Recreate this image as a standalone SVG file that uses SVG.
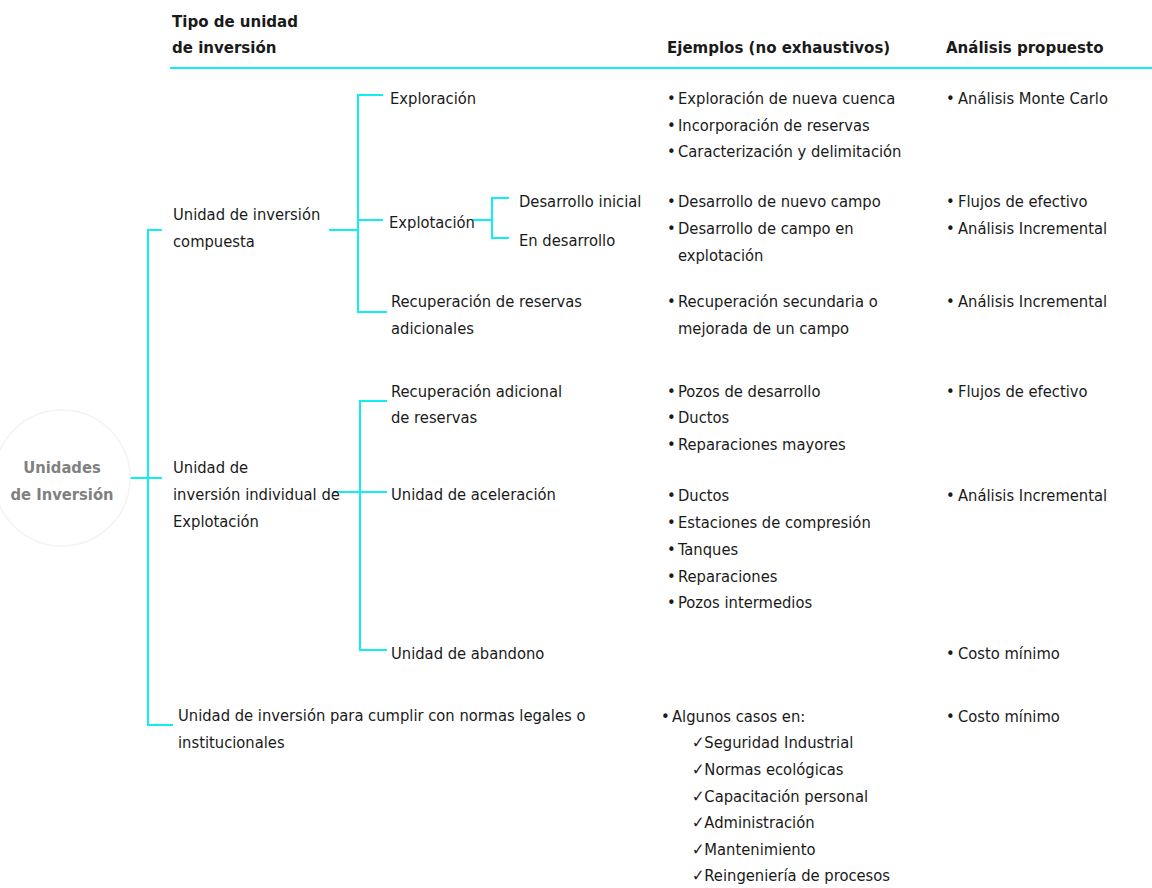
<svg xmlns="http://www.w3.org/2000/svg" width="1152" height="888" viewBox="0 0 1152 888">
<style>
text{font-family:"DejaVu Sans Condensed","DejaVu Sans",sans-serif;font-size:16.4px;fill:#1a1a1a}
.h{font-weight:bold;font-size:16.7px}
.root{font-weight:bold;fill:#808080;font-size:16.4px}
.c{stroke:#10EEF4;stroke-width:2;fill:none}
</style>
<rect width="1152" height="888" fill="#ffffff"/>
<g id="header">
<text class="h" x="172" y="27">Tipo de unidad</text>
<text class="h" x="172" y="53">de inversión</text>
<text class="h" x="667" y="53">Ejemplos (no exhaustivos)</text>
<text class="h" x="946" y="53">Análisis propuesto</text>
<line class="c" x1="170" y1="68" x2="1152" y2="68"/>
</g>
<g id="connectors">
<line class="c" x1="127" y1="478" x2="162" y2="478"/>
<polyline class="c" points="162,230 148,230 148,725 173,725"/>
<line class="c" x1="329" y1="230" x2="358" y2="230"/>
<polyline class="c" points="383,95 358,95 358,312 387,312"/>
<line class="c" x1="358" y1="220" x2="383" y2="220"/>
<line class="c" x1="472" y1="220" x2="492" y2="220"/>
<polyline class="c" points="509,198 492,198 492,238 509,238"/>
<polyline class="c" points="387,401 360,401 360,650 387,650"/>
<line class="c" x1="333" y1="492" x2="387" y2="492"/>
</g>
<g id="root">
<circle cx="62" cy="478" r="68" fill="#ffffff" stroke="#f3f3f3" stroke-width="1.5"/>
<text class="root" x="62" y="473" text-anchor="middle">Unidades</text>
<text class="root" x="62" y="500" text-anchor="middle">de Inversión</text>
</g>
<g id="n-compuesta">
<text x="173" y="220">Unidad de inversión</text>
<text x="173" y="247">compuesta</text>
</g>
<g id="n-individual">
<text x="173" y="473">Unidad de</text>
<text x="173" y="500">inversión individual de</text>
<text x="173" y="527">Explotación</text>
</g>
<g id="n-normas">
<text x="178" y="721">Unidad de inversión para cumplir con normas legales o</text>
<text x="178" y="748">institucionales</text>
</g>
<g id="n-exploracion"><text x="390" y="104">Exploración</text></g>
<g id="n-explotacion"><text x="389" y="228">Explotación</text></g>
<g id="n-des-inicial"><text x="519" y="207">Desarrollo inicial</text></g>
<g id="n-en-des"><text x="519" y="246">En desarrollo</text></g>
<g id="n-recup-reservas">
<text x="391" y="307">Recuperación de reservas</text>
<text x="391" y="334">adicionales</text>
</g>
<g id="n-recup-adicional">
<text x="391" y="397">Recuperación adicional</text>
<text x="391" y="423">de reservas</text>
</g>
<g id="n-aceleracion"><text x="391" y="500">Unidad de aceleración</text></g>
<g id="n-abandono"><text x="391" y="659">Unidad de abandono</text></g>
<g id="ejemplos">
<text x="667" y="104">•<tspan x="678">Exploración de nueva cuenca</tspan></text>
<text x="667" y="131">•<tspan x="678">Incorporación de reservas</tspan></text>
<text x="667" y="157">•<tspan x="678">Caracterización y delimitación</tspan></text>
<text x="667" y="207">•<tspan x="678">Desarrollo de nuevo campo</tspan></text>
<text x="667" y="234">•<tspan x="678">Desarrollo de campo en</tspan></text>
<text x="678" y="261">explotación</text>
<text x="667" y="307">•<tspan x="678">Recuperación secundaria o</tspan></text>
<text x="678" y="334">mejorada de un campo</text>
<text x="667" y="397">•<tspan x="678">Pozos de desarrollo</tspan></text>
<text x="667" y="423">•<tspan x="678">Ductos</tspan></text>
<text x="667" y="450">•<tspan x="678">Reparaciones mayores</tspan></text>
<text x="667" y="501">•<tspan x="678">Ductos</tspan></text>
<text x="667" y="528">•<tspan x="678">Estaciones de compresión</tspan></text>
<text x="667" y="555">•<tspan x="678">Tanques</tspan></text>
<text x="667" y="582">•<tspan x="678">Reparaciones</tspan></text>
<text x="667" y="608">•<tspan x="678">Pozos intermedios</tspan></text>
<text x="661" y="722">•<tspan x="672">Algunos casos en:</tspan></text>
<text x="692" y="748">✓Seguridad Industrial</text>
<text x="692" y="775">✓Normas ecológicas</text>
<text x="692" y="802">✓Capacitación personal</text>
<text x="692" y="828">✓Administración</text>
<text x="692" y="855">✓Mantenimiento</text>
<text x="692" y="881">✓Reingeniería de procesos</text>
</g>
<g id="analisis">
<text x="946" y="104">•<tspan x="958">Análisis Monte Carlo</tspan></text>
<text x="946" y="207">•<tspan x="958">Flujos de efectivo</tspan></text>
<text x="946" y="234">•<tspan x="958">Análisis Incremental</tspan></text>
<text x="946" y="307">•<tspan x="958">Análisis Incremental</tspan></text>
<text x="946" y="397">•<tspan x="958">Flujos de efectivo</tspan></text>
<text x="946" y="501">•<tspan x="958">Análisis Incremental</tspan></text>
<text x="946" y="659">•<tspan x="958">Costo mínimo</tspan></text>
<text x="946" y="722">•<tspan x="958">Costo mínimo</tspan></text>
</g>
</svg>
